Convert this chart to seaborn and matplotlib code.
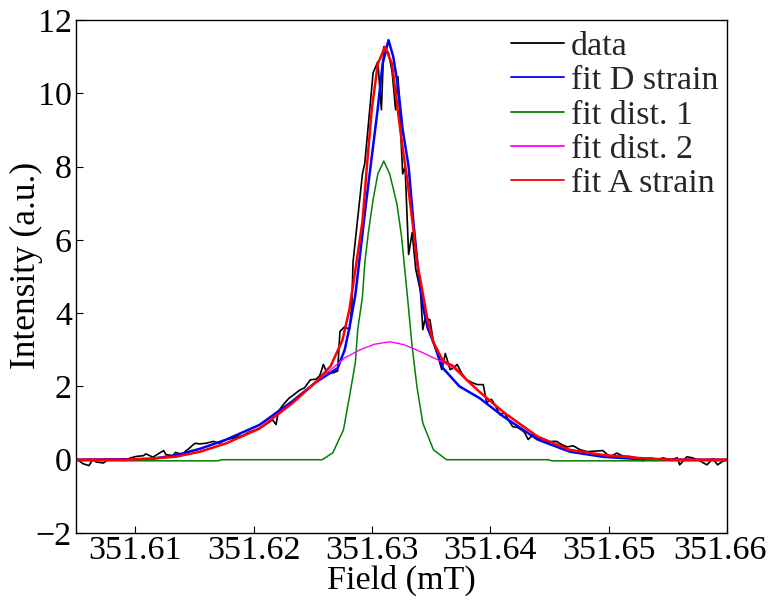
import numpy as np
import pandas as pd
import matplotlib
matplotlib.use("Agg")
import matplotlib.pyplot as plt
import matplotlib.transforms as mtransforms
import seaborn as sns

# ---------------- data ----------------
data_field = [
    351.6050, 351.6056, 351.6061, 351.6064, 351.6067, 351.6073, 351.6078, 351.6084,
    351.6092, 351.6096, 351.6101, 351.6107, 351.6109, 351.6115, 351.6124, 351.6126,
    351.6132, 351.6134, 351.6140, 351.6143, 351.6145, 351.6149, 351.6151, 351.6154,
    351.6160, 351.6166, 351.6171, 351.6177, 351.6183, 351.6188, 351.6191, 351.6196,
    351.6202, 351.6208, 351.6213, 351.6216, 351.6219, 351.6221, 351.6225, 351.6230,
    351.6233, 351.6239, 351.6243, 351.6248, 351.6253, 351.6256, 351.6259, 351.6262,
    351.6267, 351.6271, 351.6273, 351.6277, 351.6281, 351.6283, 351.6284, 351.6287,
    351.6292, 351.6294, 351.6298, 351.6301, 351.6305, 351.6308, 351.6310, 351.6314,
    351.6317, 351.6320, 351.6322, 351.6326, 351.6328, 351.6331, 351.6334, 351.6337,
    351.6341, 351.6343, 351.6345, 351.6349, 351.6352, 351.6356, 351.6359, 351.6362,
    351.6366, 351.6369, 351.6372, 351.6376, 351.6380, 351.6385, 351.6389, 351.6394,
    351.6397, 351.6401, 351.6404, 351.6408, 351.6412, 351.6415, 351.6419, 351.6423,
    351.6427, 351.6429, 351.6432, 351.6436, 351.6440, 351.6444, 351.6448, 351.6452,
    351.6456, 351.6461, 351.6465, 351.6470, 351.6476, 351.6482, 351.6487, 351.6491,
    351.6495, 351.6501, 351.6507, 351.6512, 351.6518, 351.6524, 351.6529, 351.6535,
    351.6541, 351.6546, 351.6552, 351.6558, 351.6560, 351.6566, 351.6571, 351.6577,
    351.6583, 351.6588, 351.6592, 351.6596, 351.6600,
]
data_intensity = [
    0.03, -0.11, -0.16, 0.00, -0.06, -0.09, 0.02, 0.00,
    -0.02, 0.05, 0.09, 0.11, 0.16, 0.07, 0.25, 0.14,
    0.11, 0.20, 0.14, 0.25, 0.29, 0.41, 0.45, 0.43,
    0.45, 0.50, 0.45, 0.55, 0.59, 0.64, 0.66, 0.75,
    0.82, 0.91, 1.02, 1.09, 0.96, 1.32, 1.50, 1.68,
    1.75, 1.90, 1.96, 2.18, 2.20, 2.30, 2.60, 2.37,
    2.37, 2.42, 3.50, 3.63, 3.55, 4.18, 5.38, 6.28,
    7.80, 8.10, 9.50, 10.56, 10.86, 9.55, 11.27, 11.10,
    10.60, 9.55, 10.45, 7.80, 8.00, 5.60, 6.20, 5.20,
    4.60, 3.55, 3.87, 3.82, 3.20, 2.80, 2.46, 2.90,
    2.46, 2.50, 2.60, 2.35, 2.18, 2.10, 2.05, 2.05,
    1.56, 1.65, 1.50, 1.23, 1.28, 1.10, 0.90, 0.88,
    0.80, 0.74, 0.55, 0.68, 0.60, 0.55, 0.46, 0.50,
    0.50, 0.40, 0.35, 0.38, 0.27, 0.22, 0.23, 0.24,
    0.25, 0.08, 0.18, 0.10, 0.09, 0.05, -0.03, 0.05,
    0.01, 0.05, 0.00, 0.05, -0.14, 0.08, 0.05, -0.03,
    -0.14, 0.03, -0.14, -0.05, 0.00,
]

fitD_field = [
    351.6050, 351.6113, 351.6134, 351.6155, 351.6177, 351.6205, 351.6233, 351.6252,
    351.6271, 351.6277, 351.6281, 351.6286, 351.6290, 351.6295, 351.6300, 351.6305,
    351.6309, 351.6314, 351.6318, 351.6322, 351.6326, 351.6331, 351.6335, 351.6339,
    351.6343, 351.6347, 351.6352, 351.6360, 351.6374, 351.6391, 351.6411, 351.6440,
    351.6467, 351.6495, 351.6524, 351.6552, 351.6600,
]
fitD_intensity = [
    0.00, 0.02, 0.12, 0.30, 0.55, 0.95, 1.60, 2.10,
    2.50, 3.00, 3.60, 4.50, 5.60, 7.00, 8.30, 9.60,
    10.80, 11.45, 11.00, 10.20, 9.00, 8.00, 6.50, 5.20,
    4.20, 3.60, 3.20, 2.50, 2.00, 1.68, 1.18, 0.55,
    0.22, 0.08, 0.02, 0.00, 0.00,
]

dist1_field = [
    351.6050, 351.6170, 351.6173, 351.6258, 351.6267, 351.6276, 351.6281, 351.6286,
    351.6288, 351.6292, 351.6294, 351.6297, 351.6301, 351.6305, 351.6310, 351.6315,
    351.6321, 351.6325, 351.6330, 351.6334, 351.6338, 351.6343, 351.6352, 351.6363,
    351.6449, 351.6452, 351.6600,
]
dist1_intensity = [
    -0.03, -0.03, 0.00, 0.00, 0.19, 0.82, 1.72, 2.65,
    3.55, 4.45, 5.38, 6.20, 7.10, 7.80, 8.15, 7.80,
    7.00, 6.10, 4.45, 3.08, 2.00, 1.00, 0.27, 0.00,
    0.00, -0.03, -0.03,
]

dist2_field = [
    351.6050, 351.6092, 351.6113, 351.6134, 351.6155, 351.6177, 351.6205, 351.6233,
    351.6252, 351.6265, 351.6277, 351.6290, 351.6302, 351.6315, 351.6327, 351.6341,
    351.6352, 351.6359, 351.6369, 351.6380, 351.6391, 351.6411, 351.6440, 351.6467,
    351.6495, 351.6524, 351.6552, 351.6600,
]
dist2_intensity = [
    0.00, 0.00, 0.03, 0.08, 0.22, 0.45, 0.85, 1.55,
    2.10, 2.45, 2.78, 3.00, 3.15, 3.22, 3.14, 2.95,
    2.78, 2.68, 2.50, 2.18, 1.85, 1.30, 0.63, 0.27,
    0.13, 0.05, 0.00, 0.00,
]

fitA_field = [
    351.6050, 351.6092, 351.6113, 351.6134, 351.6155, 351.6177, 351.6205, 351.6233,
    351.6252, 351.6265, 351.6275, 351.6281, 351.6287, 351.6292, 351.6296, 351.6300,
    351.6305, 351.6311, 351.6317, 351.6322, 351.6326, 351.6330, 351.6335, 351.6338,
    351.6341, 351.6347, 351.6352, 351.6360, 351.6369, 351.6380, 351.6391, 351.6411,
    351.6440, 351.6467, 351.6495, 351.6524, 351.6552, 351.6600,
]
fitA_intensity = [
    0.00, 0.00, 0.03, 0.08, 0.22, 0.45, 0.85, 1.55,
    2.10, 2.55, 3.25, 4.10, 5.40, 6.50, 8.10, 9.60,
    10.80, 11.27, 10.80, 9.50, 8.50, 7.60, 6.30, 5.40,
    4.90, 3.80, 3.20, 2.70, 2.55, 2.18, 1.85, 1.30,
    0.63, 0.27, 0.13, 0.05, 0.00, 0.00,
]

x_ticks = [351.61, 351.62, 351.63, 351.64, 351.65, 351.66]
x_tick_labels = ["351.61", "351.62", "351.63", "351.64", "351.65", "351.66"]
y_ticks = [-2, 0, 2, 4, 6, 8, 10, 12]

series = [
    ("data", data_field, data_intensity, "#000000", 1.2),
    ("fit D strain", fitD_field, fitD_intensity, "#0000ff", 1.8),
    ("fit dist. 1", dist1_field, dist1_intensity, "#008000", 1.1),
    ("fit dist. 2", dist2_field, dist2_intensity, "#ff00ff", 1.0),
    ("fit A strain", fitA_field, fitA_intensity, "#ff0000", 1.8),
]

# ---------------- plotting ----------------
sns.set_style("white")
plt.rcParams["font.family"] = ["Liberation Serif", "DejaVu Serif"]
plt.rcParams["axes.unicode_minus"] = True

FS = 24.5

fig = plt.figure(figsize=(7.7, 6.02), dpi=100)
ax = fig.add_axes([0.0987, 0.1146, 0.8455, 0.8522])

for name, xs, ys, col, lw in series:
    df = pd.DataFrame({"Field": xs, "Intensity": ys})
    sns.lineplot(data=df, x="Field", y="Intensity", ax=ax, color=col,
                 linewidth=lw, label=name, estimator=None, sort=False)

ax.set_xlim(351.605, 351.66)
ax.set_ylim(-2, 12)
ax.set_xticks(x_ticks)
ax.set_xticklabels(x_tick_labels)
ax.set_yticks(y_ticks)

ax.tick_params(axis="both", direction="in", length=5, width=0.8,
               labelsize=FS, top=False, right=False, bottom=True, left=True,
               color="black", labelcolor="black")
ax.tick_params(axis="x", pad=2)
ax.tick_params(axis="y", pad=3)

# keep the last x tick label inside the figure (as in the reference)
last = ax.get_xticklabels()[-1]
last.set_transform(last.get_transform() +
                   mtransforms.ScaledTranslation(-7 / 100, 0, fig.dpi_scale_trans))

for s in ax.spines.values():
    s.set_visible(True)
    s.set_color("black")
    s.set_linewidth(1.0)

ax.set_xlabel("Field (mT)", fontsize=FS, labelpad=-1, color="black")
ax.set_ylabel("Intensity (a.u.)", fontsize=25.5, color="black")
ax.yaxis.set_label_coords(-0.051, 0.522)

leg = ax.legend(loc="upper right", bbox_to_anchor=(0.986, 0.978), frameon=False,
                fontsize=FS, handlelength=1.55, handletextpad=0.2,
                labelspacing=0.1, borderpad=0.0, borderaxespad=0.0)
for line in leg.get_lines():
    line.set_linewidth(1.3)

fig.savefig("out.png", dpi=100)
